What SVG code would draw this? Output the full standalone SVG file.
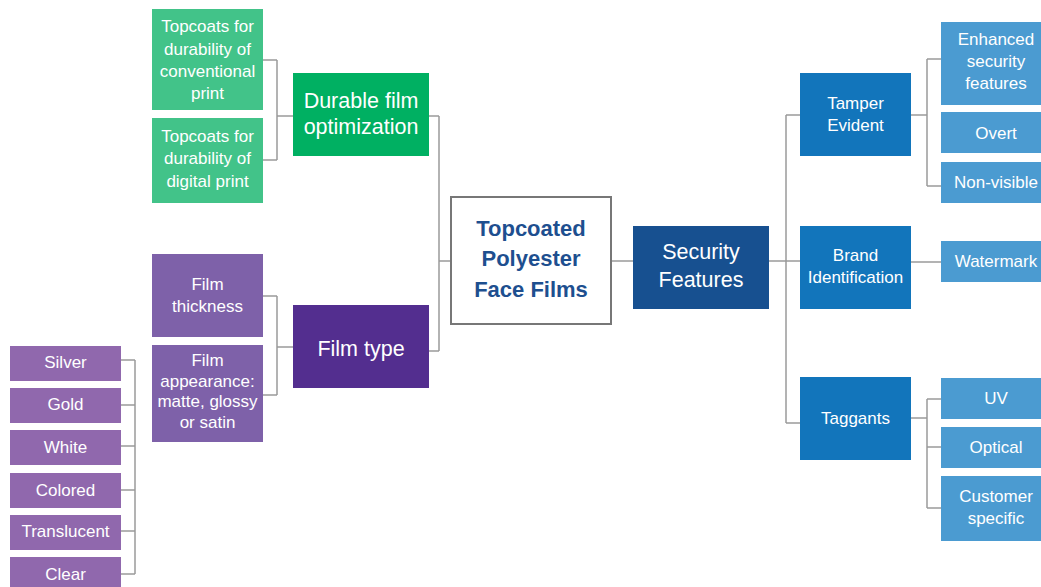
<svg xmlns="http://www.w3.org/2000/svg" width="1041" height="587" viewBox="0 0 1041 587">
<style>
.t{font-family:"Liberation Sans",Arial,sans-serif;fill:#fff;text-anchor:middle}
.s{font-size:17px}
.m{font-size:17px}
.l{font-size:21.5px}
.c{font-family:"Liberation Sans",Arial,sans-serif;font-weight:bold;font-size:22px;fill:#1e4f8f;text-anchor:middle}
.g1{fill:#42c389}
.g2{fill:#00b062}
.p1{fill:#7e61a9}
.p2{fill:#532e8f}
.p3{fill:#9068ad}
.b1{fill:#1275bb}
.b2{fill:#4b9bd1}
.b3{fill:#175090}
.ln{fill:none;stroke:#9a9a9a;stroke-width:1.5}
</style>
<rect width="1041" height="587" fill="#fff"/>
<g id="connectors" class="ln">
<path d="M263 60H277M263 160H277M277 60V160M277 116H293"/>
<path d="M263 296H277M263 395H277M277 296V395M277 347H293"/>
<path d="M121 360H135M121 405H135M121 446H135M121 490H135M121 531H135M121 574H135M135 360V574"/>
<path d="M429 116H439M429 351H439M439 116V351M439 261H451"/>
<path d="M612 261H633M769 261H786M786 115V423M786 115H800M786 261H800M786 423H800"/>
<path d="M911 115H927M927 59V186M927 59H941M927 186H941"/>
<path d="M911 262H941"/>
<path d="M911 418H927M927 399V508M927 399H941M927 447H941M927 508H941"/>
</g>
<g id="n-conv"><rect class="g1" x="152" y="9" width="111" height="101"/><text class="t s"><tspan x="207.5" y="32">Topcoats for</tspan><tspan x="207.5" y="54.5">durability of</tspan><tspan x="207.5" y="77">conventional</tspan><tspan x="207.5" y="99">print</tspan></text></g>
<g id="n-digital"><rect class="g1" x="152" y="118" width="111" height="85"/><text class="t s"><tspan x="207.5" y="141.5">Topcoats for</tspan><tspan x="207.5" y="164">durability of</tspan><tspan x="207.5" y="186.5">digital print</tspan></text></g>
<g id="n-durable"><rect class="g2" x="293" y="73" width="136" height="83"/><text class="t l"><tspan x="361" y="108">Durable film</tspan><tspan x="361" y="134">optimization</tspan></text></g>
<g id="n-thick"><rect class="p1" x="152" y="254" width="111" height="83"/><text class="t s"><tspan x="207.5" y="290">Film</tspan><tspan x="207.5" y="311.5">thickness</tspan></text></g>
<g id="n-appear"><rect class="p1" x="152" y="345" width="111" height="97"/><text class="t s"><tspan x="207.5" y="366">Film</tspan><tspan x="207.5" y="386.5">appearance:</tspan><tspan x="207.5" y="407">matte, glossy</tspan><tspan x="207.5" y="427.5">or satin</tspan></text></g>
<g id="n-filmtype"><rect class="p2" x="293" y="305" width="136" height="83"/><text class="t l" x="361" y="356">Film type</text></g>
<g id="n-silver"><rect class="p3" x="10" y="346" width="111" height="35"/><text class="t m" x="65.5" y="368">Silver</text></g>
<g id="n-gold"><rect class="p3" x="10" y="388" width="111" height="35"/><text class="t m" x="65.5" y="410">Gold</text></g>
<g id="n-white"><rect class="p3" x="10" y="430" width="111" height="35"/><text class="t m" x="65.5" y="452.5">White</text></g>
<g id="n-colored"><rect class="p3" x="10" y="473" width="111" height="35"/><text class="t m" x="65.5" y="495.5">Colored</text></g>
<g id="n-translucent"><rect class="p3" x="10" y="515" width="111" height="35"/><text class="t m" x="65.5" y="536.5">Translucent</text></g>
<g id="n-clear"><rect class="p3" x="10" y="557" width="111" height="35"/><text class="t m" x="65.5" y="580">Clear</text></g>
<g id="n-center"><rect x="451" y="197" width="160" height="127" fill="#fff" stroke="#777" stroke-width="2"/><text class="c"><tspan x="531" y="236">Topcoated</tspan><tspan x="531" y="266">Polyester</tspan><tspan x="531" y="297">Face Films</tspan></text></g>
<g id="n-security"><rect class="b3" x="633" y="226" width="136" height="83"/><text class="t l"><tspan x="701" y="259">Security</tspan><tspan x="701" y="287">Features</tspan></text></g>
<g id="n-tamper"><rect class="b1" x="800" y="73" width="111" height="83"/><text class="t m"><tspan x="855.5" y="109">Tamper</tspan><tspan x="855.5" y="131">Evident</tspan></text></g>
<g id="n-brand"><rect class="b1" x="800" y="226" width="111" height="83"/><text class="t m"><tspan x="855.5" y="261">Brand</tspan><tspan x="855.5" y="283">Identification</tspan></text></g>
<g id="n-taggants"><rect class="b1" x="800" y="377" width="111" height="83"/><text class="t m" x="855.5" y="423.5">Taggants</text></g>
<g id="n-enhanced"><rect class="b2" x="941" y="22" width="110" height="83"/><text class="t m"><tspan x="996" y="45">Enhanced</tspan><tspan x="996" y="67">security</tspan><tspan x="996" y="89">features</tspan></text></g>
<g id="n-overt"><rect class="b2" x="941" y="112" width="110" height="41"/><text class="t m" x="996" y="139">Overt</text></g>
<g id="n-nonvisible"><rect class="b2" x="941" y="162" width="110" height="41"/><text class="t m" x="996" y="188">Non-visible</text></g>
<g id="n-watermark"><rect class="b2" x="941" y="241" width="110" height="41"/><text class="t m" x="996" y="267">Watermark</text></g>
<g id="n-uv"><rect class="b2" x="941" y="378" width="110" height="41"/><text class="t m" x="996" y="404">UV</text></g>
<g id="n-optical"><rect class="b2" x="941" y="427" width="110" height="41"/><text class="t m" x="996" y="453">Optical</text></g>
<g id="n-customer"><rect class="b2" x="941" y="476" width="110" height="65"/><text class="t m"><tspan x="996" y="502">Customer</tspan><tspan x="996" y="524">specific</tspan></text></g>
</svg>
